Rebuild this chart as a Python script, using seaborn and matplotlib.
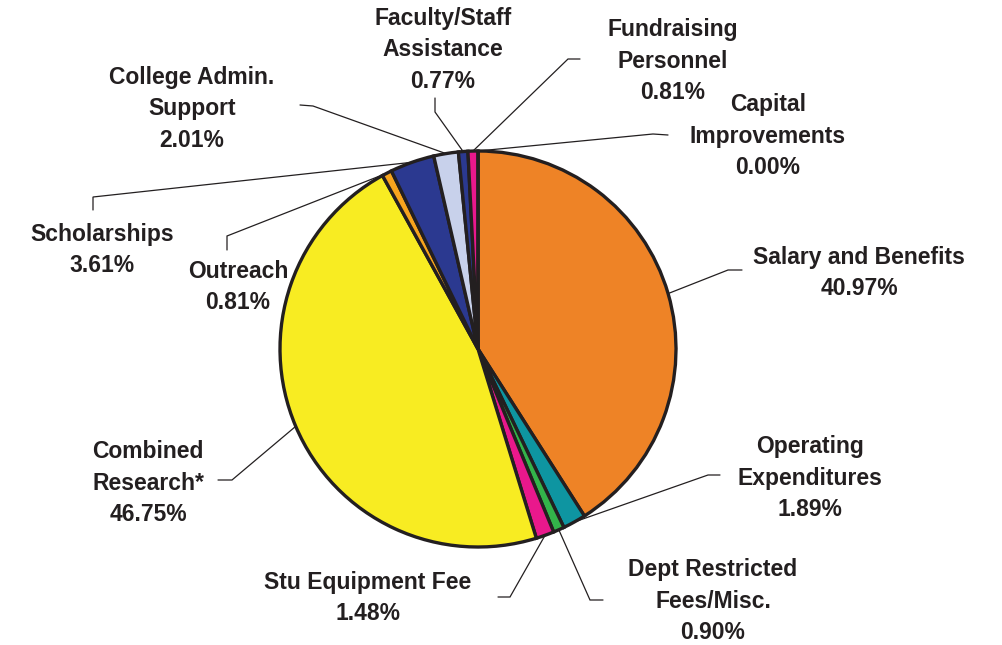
import numpy as np
import matplotlib
matplotlib.use("Agg")
import matplotlib.pyplot as plt
import seaborn as sns

# ---------------- data ----------------
categories = ["Salary and Benefits", "Operating\nExpenditures", "Dept Restricted\nFees/Misc.",
              "Stu Equipment Fee", "Combined\nResearch*", "Outreach", "Scholarships",
              "College Admin.\nSupport", "Faculty/Staff\nAssistance", "Fundraising\nPersonnel",
              "Capital\nImprovements"]
values = [40.97, 1.89, 0.90, 1.48, 46.75, 0.81, 3.61, 2.01, 0.77, 0.81, 0.00]
colors = ["#EE8326", "#0E95A1", "#33B44A", "#E9188C", "#F8EC22", "#F7A41D",
          "#2B3990", "#C8D1EB", "#2B3990", "#E9188C", "#999999"]

# ---------------- layout (pixels) ----------------
W, H = 1002, 645
CX, CY, R = 478, 349, 198
label_pos = [(859, 273), (810, 478), (713, 601), (368, 598), (148, 483), (238, 287),
             (102, 250), (192, 109), (443, 50), (673, 61), (768, 136)]
# leader line: stub end, knee (pixels)
leader = [((742, 270), (728, 270)), ((720, 475), (708, 475)), ((603, 600), (590, 600)),
          ((498, 597), (510, 597)), ((218, 480), (232, 480)), ((227, 250), (227, 236)),
          ((93, 210), (93, 197)), ((300, 105), (313, 106)), ((435, 98), (435, 112)),
          ((580, 59), (568, 59)), ((668, 135), (653, 134))]

sns.set_theme(style="white")
plt.rcParams['font.family'] = ['Liberation Sans', 'DejaVu Sans']

ink = "#231F20"

def P(px, py):
    return ((px - CX) / R, (CY - py) / R)

fig = plt.figure(figsize=(W / 100, H / 100), dpi=100)
ax = fig.add_axes([0, 0, 1, 1])
wedges, _ = ax.pie(values, colors=colors, startangle=90, counterclock=False, radius=1,
                   center=(0, 0),
                   wedgeprops=dict(edgecolor=ink, linewidth=2.4, joinstyle='miter'))
ax.set_xlim(-CX / R, (W - CX) / R)
ax.set_ylim(-(H - CY) / R, CY / R)
ax.set_aspect('auto')
ax.axis('off')

total = sum(values)
cum = np.cumsum([0] + values)
for i, (lab, v) in enumerate(zip(categories, values)):
    mid = 90 - (cum[i] + v / 2) / total * 360
    wx, wy = np.cos(np.radians(mid)), np.sin(np.radians(mid))
    (s1, s2) = leader[i]
    p1, p2 = P(*s1), P(*s2)
    ax.plot([p1[0], p2[0], wx], [p1[1], p2[1], wy], color=ink, lw=0.9,
            solid_joinstyle='miter', zorder=0.5)
    tx, ty = P(*label_pos[i])
    ax.text(tx, ty, f"{lab}\n{v:.2f}%", ha='center', va='center', fontsize=16.5,
            fontweight='bold', color=ink, linespacing=1.48)

fig.savefig("out.png", dpi=100)
